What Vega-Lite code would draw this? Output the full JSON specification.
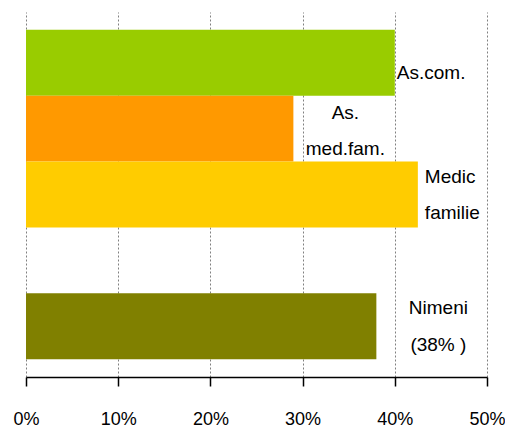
{
  "$schema": "https://vega.github.io/schema/vega-lite/v6.json",
  "width": 461,
  "height": 365,
  "autosize": "none",
  "padding": {"left": 26, "top": 12, "right": 18, "bottom": 51},
  "config": {
    "view": {"stroke": null},
    "font": "Liberation Sans, Arial, sans-serif"
  },
  "data": {
    "values": [
      {"cat": "As.com.", "value": 0.40, "label": "As.com."},
      {"cat": "As. med.fam.", "value": 0.29, "label": "As.\nmed.fam."},
      {"cat": "Medic familie", "value": 0.425, "label": "Medic\nfamilie"},
      {"cat": "Nimeni", "value": 0.38, "label": "Nimeni\n(38% )"}
    ]
  },
  "encoding": {
    "y": {
      "field": "cat",
      "type": "nominal",
      "scale": {
        "domain": ["As.com.", "As. med.fam.", "Medic familie", "gap", "Nimeni"],
        "paddingInner": 0,
        "paddingOuter": 0.27
      },
      "axis": null
    },
    "x": {
      "field": "value",
      "type": "quantitative",
      "scale": {"domain": [0, 0.5], "nice": false},
      "axis": {
        "title": null,
        "format": ".0%",
        "values": [0, 0.1, 0.2, 0.3, 0.4, 0.5],
        "grid": true,
        "gridColor": "#808080",
        "gridDash": [2, 2],
        "gridWidth": 1,
        "domainColor": "#000000",
        "domainWidth": 1.5,
        "tickColor": "#000000",
        "tickWidth": 1.5,
        "tickSize": 9,
        "labelFontSize": 18,
        "labelColor": "#000000",
        "labelBaseline": "alphabetic",
        "labelPadding": 38,
        "labelFlush": false,
        "labelBound": false,
        "labelOverlap": false
      }
    }
  },
  "layer": [
    {
      "mark": {"type": "bar"},
      "encoding": {
        "color": {
          "field": "cat",
          "type": "nominal",
          "scale": {
            "domain": ["As.com.", "As. med.fam.", "Medic familie", "Nimeni"],
            "range": ["#99CC00", "#FF9900", "#FFCC00", "#808000"]
          },
          "legend": null
        }
      }
    },
    {
      "transform": [{"filter": "datum.cat === 'As.com.'"}],
      "mark": {"type": "text", "align": "left", "baseline": "middle", "dx": 2, "dy": 10, "fontSize": 19, "color": "#000000", "lineBreak": "\n", "lineHeight": 36},
      "encoding": {"text": {"field": "label"}}
    },
    {
      "transform": [{"filter": "datum.cat === 'As. med.fam.'"}],
      "mark": {"type": "text", "align": "center", "baseline": "middle", "dx": 52, "dy": -16, "fontSize": 19, "color": "#000000", "lineBreak": "\n", "lineHeight": 36},
      "encoding": {"text": {"field": "label"}}
    },
    {
      "transform": [{"filter": "datum.cat === 'Medic familie'"}],
      "mark": {"type": "text", "align": "left", "baseline": "middle", "dx": 7, "dy": -18, "fontSize": 19, "color": "#000000", "lineBreak": "\n", "lineHeight": 36},
      "encoding": {"text": {"field": "label"}}
    },
    {
      "transform": [{"filter": "datum.cat === 'Nimeni'"}],
      "mark": {"type": "text", "align": "center", "baseline": "middle", "dx": 62, "dy": -18, "fontSize": 19, "color": "#000000", "lineBreak": "\n", "lineHeight": 37},
      "encoding": {"text": {"field": "label"}}
    }
  ]
}
